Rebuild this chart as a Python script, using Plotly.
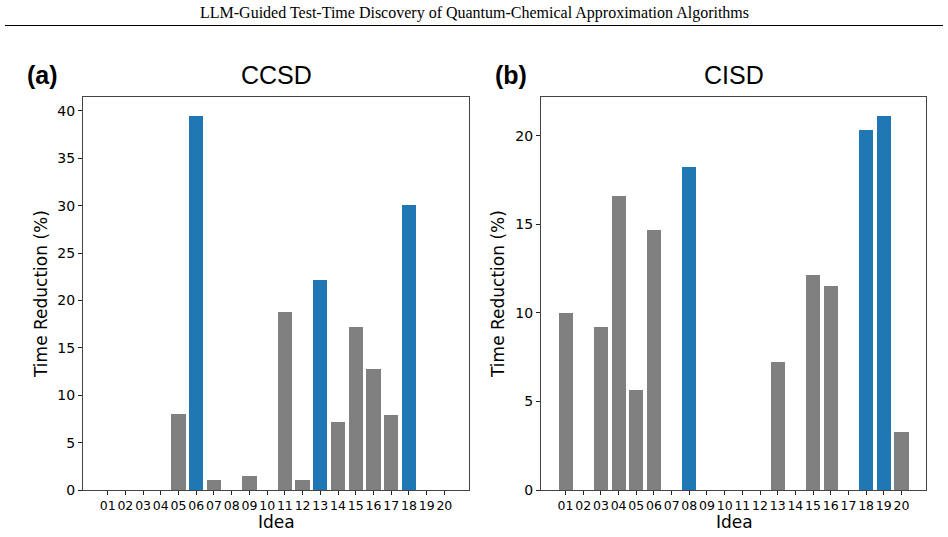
import plotly.graph_objects as go

ideas = ["01","02","03","04","05","06","07","08","09","10",
         "11","12","13","14","15","16","17","18","19","20"]
ccsd = [0, 0, 0, 0, 8.0, 39.5, 1.1, 0, 1.5, 0,
        18.8, 1.1, 22.2, 7.2, 17.2, 12.8, 7.9, 30.1, 0, 0]
cisd = [10.0, 0, 9.2, 16.6, 5.65, 14.7, 0, 18.25, 0, 0,
        0, 0, 7.23, 0, 12.15, 11.5, 0, 20.34, 21.13, 3.28]
ccsd_best = ["06", "13", "18"]
cisd_best = ["08", "18", "19"]

GRAY = "#808080"
BLUE = "#1f77b4"
W, H = 948, 537

def px_x(p): return p / W
def px_y(p): return 1 - p / H

xs = list(range(len(ideas)))
fig = go.Figure()
fig.add_trace(go.Bar(x=xs, y=ccsd, width=0.8,
                     marker=dict(color=[BLUE if i in ccsd_best else GRAY for i in ideas], line=dict(width=0)),
                     xaxis="x", yaxis="y", showlegend=False))
fig.add_trace(go.Bar(x=xs, y=cisd, width=0.8,
                     marker=dict(color=[BLUE if i in cisd_best else GRAY for i in ideas], line=dict(width=0)),
                     xaxis="x2", yaxis="y2", showlegend=False))

ydom = [px_y(490), px_y(97)]
axis_common = dict(showgrid=False, zeroline=False, showline=True, linecolor="#444444", linewidth=1,
                   mirror=True, ticks="outside", ticklen=4, tickcolor="#222222", automargin=False,
                   tickfont=dict(family="DejaVu Sans", size=14, color="black"))
xcommon = dict(axis_common, tickmode="array", tickvals=xs, ticktext=ideas, range=[-1.39, 20.39],
               tickangle=0, tickfont=dict(family="DejaVu Sans", size=12.5, color="black"))

cmax = max(ccsd) * 1.05
dmax = max(cisd) * 1.05
fig.update_layout(
    template="none",
    width=W, height=H, margin=dict(l=0, r=0, t=0, b=0, autoexpand=False),
    plot_bgcolor="white", paper_bgcolor="white", bargap=0,
    xaxis=dict(xcommon, domain=[px_x(83), px_x(469)], anchor="y"),
    yaxis=dict(axis_common, domain=ydom, range=[0, cmax], tickvals=[0, 5, 10, 15, 20, 25, 30, 35, 40], anchor="x"),
    xaxis2=dict(xcommon, domain=[px_x(541), px_x(926)], anchor="y2"),
    yaxis2=dict(axis_common, domain=ydom, range=[0, dmax], tickvals=[0, 5, 10, 15, 20], anchor="x2"),
)

ann = []
def add(text, x, y, size, family="DejaVu Sans", angle=0, bold=False):
    ann.append(dict(text=f"<b>{text}</b>" if bold else text, x=px_x(x), y=px_y(y), xref="paper", yref="paper",
                    showarrow=False, textangle=angle, xanchor="center", yanchor="middle",
                    font=dict(family=family, size=size, color="black")))

add("LLM-Guided Test-Time Discovery of Quantum-Chemical Approximation Algorithms", 474, 13, 16, family="Liberation Serif")
add("(a)", 42, 75, 25, family="Liberation Sans", bold=True)
add("(b)", 511, 75, 25, family="Liberation Sans", bold=True)
add("CCSD", 276, 75, 25, family="Liberation Sans")
add("CISD", 734, 75, 25, family="Liberation Sans")
add("Time Reduction (%)", 41, 294, 17, angle=-90)
add("Time Reduction (%)", 498, 294, 17, angle=-90)
add("Idea", 276, 522, 17)
add("Idea", 734, 522, 17)
fig.update_layout(annotations=ann)

fig.add_shape(type="line", xref="paper", yref="paper", x0=px_x(5), x1=px_x(943),
              y0=px_y(25.5), y1=px_y(25.5), line=dict(color="black", width=1))

fig.write_html("out.html")
